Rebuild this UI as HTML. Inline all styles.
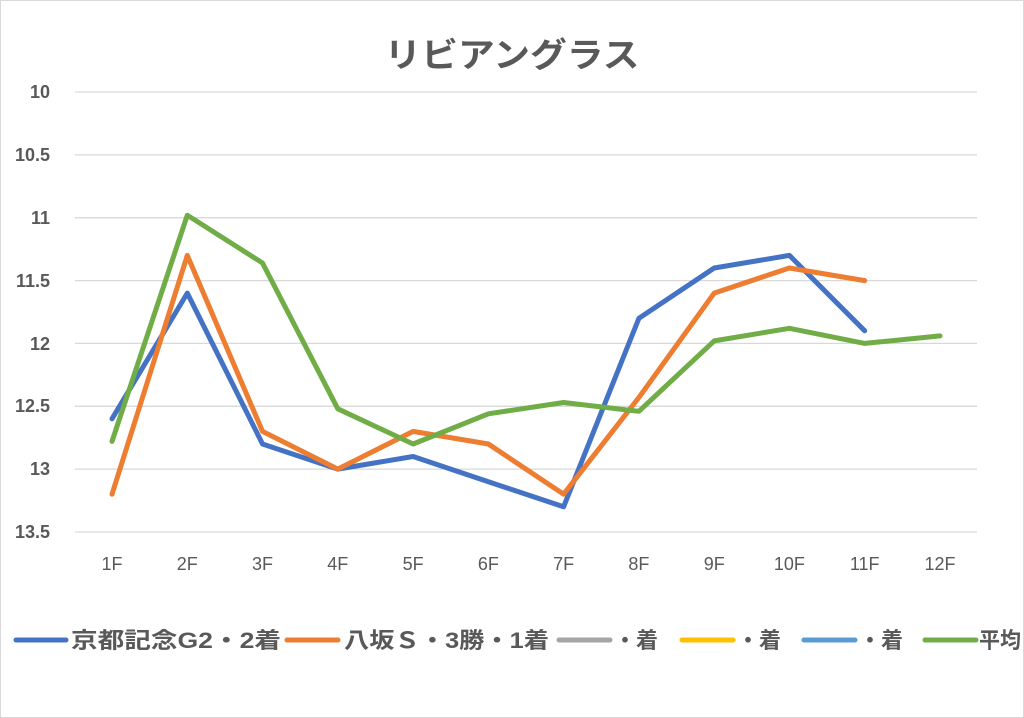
<!DOCTYPE html>
<html><head><meta charset="utf-8"><style>
html,body{margin:0;padding:0;background:#fff;}
svg{display:block;font-family:"Liberation Sans","Noto Sans CJK JP",sans-serif;}
</style></head><body>
<svg width="1024" height="718" viewBox="0 0 1024 718">
<rect x="0.5" y="0.5" width="1023" height="717" fill="#fff" stroke="#d9d9d9"/>
<text x="512" y="67" text-anchor="middle" font-size="34" font-weight="bold" fill="#595959" textLength="255" lengthAdjust="spacingAndGlyphs">リビアングラス</text>
<g stroke="#d9d9d9" stroke-width="1.3">
<line x1="75" x2="977" y1="92" y2="92"/><line x1="75" x2="977" y1="154.9" y2="154.9"/>
<line x1="75" x2="977" y1="217.7" y2="217.7"/><line x1="75" x2="977" y1="280.6" y2="280.6"/>
<line x1="75" x2="977" y1="343.4" y2="343.4"/><line x1="75" x2="977" y1="406.3" y2="406.3"/>
<line x1="75" x2="977" y1="469.1" y2="469.1"/><line x1="75" x2="977" y1="532" y2="532"/>
</g>
<g font-size="18" font-weight="bold" fill="#595959" text-anchor="end">
<text x="50" y="98">10</text><text x="50" y="161">10.5</text><text x="50" y="224">11</text>
<text x="50" y="287">11.5</text><text x="50" y="350">12</text><text x="50" y="412">12.5</text>
<text x="50" y="475">13</text><text x="50" y="538">13.5</text>
</g>
<g font-size="18" fill="#595959" text-anchor="middle">
<text x="112" y="570">1F</text><text x="187.3" y="570">2F</text><text x="262.5" y="570">3F</text>
<text x="337.8" y="570">4F</text><text x="413.1" y="570">5F</text><text x="488.4" y="570">6F</text>
<text x="563.6" y="570">7F</text><text x="638.9" y="570">8F</text><text x="714.2" y="570">9F</text>
<text x="789.4" y="570">10F</text><text x="864.7" y="570">11F</text><text x="940" y="570">12F</text>
</g>
<g fill="none" stroke-width="5" stroke-linejoin="round" stroke-linecap="round">
<polyline stroke="#4472c4" points="112,418.8 187.3,293.1 262.5,444 337.8,469.1 413.1,456.5 488.4,481.7 563.6,506.8 638.9,318.3 714.2,268 789.4,255.4 864.7,330.8"/>
<polyline stroke="#ed7d31" points="112,494.2 187.3,255.4 262.5,431.4 337.8,469.1 413.1,431.4 488.4,444 563.6,494.2 638.9,397.5 714.2,293.1 789.4,268 864.7,280.6"/>
<polyline stroke="#70ad47" points="112,441.4 187.3,215.2 262.5,263 337.8,408.8 413.1,444 488.4,413.8 563.6,402.5 638.9,411.3 714.2,340.9 789.4,328.3 864.7,343.4 940,335.9"/>
</g>
<g stroke-width="5" stroke-linecap="round">
<line x1="16" x2="66" y1="640" y2="640" stroke="#4472c4"/>
<line x1="287" x2="338" y1="640" y2="640" stroke="#ed7d31"/>
<line x1="559" x2="610" y1="640" y2="640" stroke="#a5a5a5"/>
<line x1="682" x2="733" y1="640" y2="640" stroke="#ffc000"/>
<line x1="804" x2="855" y1="640" y2="640" stroke="#5b9bd5"/>
<line x1="925" x2="976" y1="640" y2="640" stroke="#70ad47"/>
</g>
<g font-size="22" font-weight="bold" fill="#595959">
<text x="71" y="648" textLength="210" lengthAdjust="spacingAndGlyphs">京都記念G2・2着</text>
<text x="344" y="648" textLength="205" lengthAdjust="spacingAndGlyphs">八坂Ｓ・3勝・1着</text>
<text x="614" y="648" textLength="44" lengthAdjust="spacingAndGlyphs">・着</text>
<text x="737" y="648" textLength="44" lengthAdjust="spacingAndGlyphs">・着</text>
<text x="859" y="648" textLength="44" lengthAdjust="spacingAndGlyphs">・着</text>
<text x="979" y="648" textLength="42" lengthAdjust="spacingAndGlyphs">平均</text>
</g>
</svg>
</body></html>
